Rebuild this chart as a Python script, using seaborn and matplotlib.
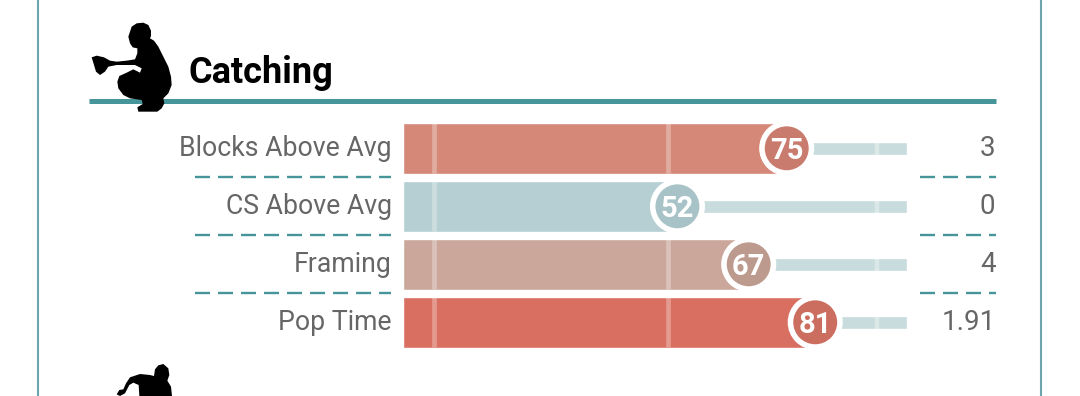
import matplotlib
matplotlib.use('Agg')
import matplotlib.pyplot as plt
import pandas as pd
import seaborn as sns
from matplotlib.patches import Polygon
from matplotlib.transforms import ScaledTranslation, blended_transform_factory

# Chart data
TITLE = 'Catching'
categories = ['Blocks Above Avg', 'CS Above Avg', 'Framing', 'Pop Time']
scores = [75, 52, 67, 81]
raw_values = ['3', '0', '4', '1.91']
grid_marks = [0.7, 50]
track_mark = 94

# Styles
AXIS_MIN = -5.68
AXIS_MAX = 100.4
bar_colors = ['#d58778', '#b5cfd2', '#cba79b', '#d96f60']
dot_colors = ['#c97b6d', '#a8c3c7', '#bd9a8e', '#cc6e5f']
TEAL = '#45959b'
FRAME = '#6ba6ac'
TRACK = '#c8dcdd'
GREY = '#666666'

# silhouettes, traced in screen pixels
catcher = [(35, 172), (50, 167), (72, 172), (90, 182), (110, 185), (140, 182), (165, 178), (172, 160),
           (172, 145), (158, 142), (150, 130), (145, 110), (150, 95), (155, 80), (170, 70), (190, 68),
           (205, 75), (213, 92), (213, 108), (210, 115), (222, 122), (235, 140), (250, 170), (265, 200),
           (273, 230), (275, 255), (265, 280), (250, 295), (253, 310), (245, 325), (232, 335), (175, 335),
           (172, 322), (188, 312), (185, 300), (150, 295), (130, 285), (115, 265), (112, 245), (118, 228),
           (140, 218), (160, 208), (180, 218), (185, 205), (165, 195), (110, 195), (85, 200), (75, 215),
           (60, 225), (48, 215), (42, 195)]
catcher = [(80 + x / 3, y / 3) for x, y in catcher]
next_catcher = [(80, 133), (88, 120), (100, 118), (108, 100), (120, 82), (150, 72), (180, 75), (192, 78),
                (195, 58), (205, 46), (220, 42), (235, 55), (238, 75), (232, 92), (243, 110), (246, 138),
                (148, 138), (146, 105), (130, 98), (118, 105), (105, 130), (90, 138)]
next_catcher = [(90 + x / 3, 350 + y / 3) for x, y in next_catcher]

df = pd.DataFrame({'category': categories, 'score': scores})
df['length'] = df['score'] - AXIS_MIN
df['track'] = AXIS_MAX - df['score']

sns.set_style('white')
plt.rcParams['font.family'] = ['Roboto']

fig = plt.figure(figsize=(10.8, 3.96), dpi=100, facecolor='white')

# pixel layer for the frame, rule and silhouettes
bg = fig.add_axes([0, 0, 1, 1], zorder=1)
bg.set_xlim(0, 1080)
bg.set_ylim(396, 0)
bg.axis('off')
bg.vlines([38, 1041], 0, 396, color=FRAME, lw=1.5)
bg.hlines(100.5, 89, 995.5, color=TEAL, lw=3.6)
bg.add_patch(Polygon(catcher, closed=True, color='black', lw=0, zorder=3))
bg.add_patch(Polygon(next_catcher, closed=True, color='black', lw=0, zorder=3))
bg.text(189, 83, TITLE, fontsize=26, fontweight='bold', color='black', va='baseline', ha='left')

ax = fig.add_axes([403.4 / 1080, 1 - 351.3 / 396, 504 / 1080, 232 / 396], zorder=2)
ax.patch.set_alpha(0)

sns.barplot(data=df, x='track', y='category', left=df['score'].tolist(), color=TRACK, width=13 / 58,
            saturation=1, ax=ax, zorder=1)
sns.barplot(data=df, x='length', y='category', hue='category', palette=bar_colors, left=AXIS_MIN,
            width=50.5 / 58, saturation=1, legend=False, ax=ax, zorder=2)

rows = list(range(len(categories)))
ax.vlines([track_mark] * 4, [i - 6.5 / 58 for i in rows], [i + 6.5 / 58 for i in rows],
          color='white', alpha=0.35, lw=3.2, zorder=2.5)
for m in grid_marks:
    ax.vlines([m] * 4, [i - 25 / 58 for i in rows], [i + 25 / 58 for i in rows],
              color='white', alpha=0.3, lw=3.4, zorder=2.5)

sns.scatterplot(data=df, x='score', y='category', hue='category', palette=dot_colors, s=1270,
                edgecolor='white', linewidth=4, legend=False, ax=ax, zorder=3, clip_on=False)
for i, s in enumerate(scores):
    ax.text(s, i + 10.5 / 58, str(s), color='white', fontsize=21, fontweight='bold', ha='center',
            va='baseline', zorder=4)

ax.set_xlim(AXIS_MIN, AXIS_MAX)
ax.set_ylim(3.5, -0.5)
ax.set_xlabel('')
ax.set_ylabel('')
ax.xaxis.set_visible(False)
ax.tick_params(axis='y', length=0, pad=8.3, labelsize=19.2, labelcolor=GREY)
sns.despine(ax=ax, left=True, bottom=True)
# move row labels so their baseline sits 8px under the row centre
down = ScaledTranslation(0, -8 / 100, fig.dpi_scale_trans)
for lbl in ax.get_yticklabels():
    lbl.set_va('baseline')
    lbl.set_transform(lbl.get_transform() + down)

# raw values and dashed separators share the bar rows
mix = blended_transform_factory(bg.transData, ax.transData)
for i, v in enumerate(raw_values):
    ax.text(995.5, i + 8 / 58, v, transform=mix, ha='right', va='baseline', fontsize=20, color=GREY,
            clip_on=False)
for i in range(len(categories) - 1):
    for x0, x1 in [(195, 391), (920, 996)]:
        ax.plot([x0, x1], [i + 0.5, i + 0.5], transform=mix, color=TEAL, lw=1.7, clip_on=False,
                linestyle=(0, (15 / 2.36, 8 / 2.36)), dash_capstyle='butt')

fig.savefig('out.png', dpi=100, facecolor='white')
